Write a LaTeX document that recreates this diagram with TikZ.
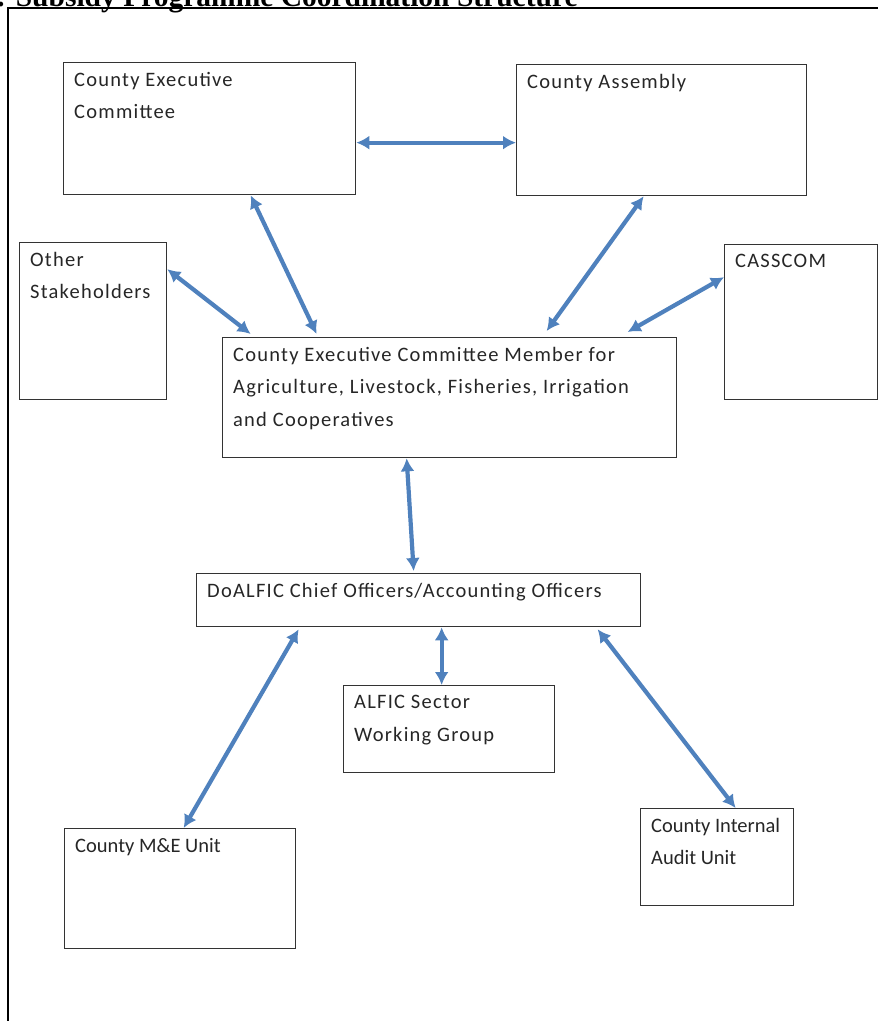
\documentclass[tikz,border=0pt]{standalone}
\usepackage{fontspec}
\setmainfont{Carlito}
\newfontfamily\titlefont{Liberation Serif}
\usetikzlibrary{arrows.meta, positioning}
\definecolor{arrBlue}{HTML}{4F81BD}
\definecolor{boxGrey}{HTML}{333333}
\tikzset{
  orgbox/.style  = {draw=boxGrey, line width=1.3pt, anchor=north west, inner sep=0pt},
  boxtxt/.style  = {anchor=north west, align=left, inner xsep=11pt, inner ysep=10pt,
                    text=black!85, font=\addfontfeature{LetterSpace=6}\fontsize{20.5}{32.5}\selectfont},
  boxtxtn/.style = {boxtxt, font=\fontsize{20.5}{32.5}\selectfont},
  link/.style    = {{Latex[length=13pt,width=14pt]}-{Latex[length=13pt,width=14pt]},
                    line width=4.2pt, arrBlue},
  ttl/.style     = {font=\titlefont\bfseries\fontsize{29.5}{32}\selectfont, anchor=base west, inner sep=0pt},
}

\begin{document}
\begin{tikzpicture}[x=1pt, y=-1pt]
  \useasboundingbox (0,0) rectangle (878,1021);
  % title and outer frame
  \node[ttl] (title) at (-4,6) {: Subsidy Programme Coordination Structure};
  \draw[line width=1.5pt] (8,1040) -- (8,8) -- (890,8);
  % top row
  \node[orgbox, minimum width=292pt, minimum height=132pt,
        label={[boxtxt]north west:County Executive\\Committee}] (cec) at (63,62) {};
  \node[orgbox, minimum width=290pt, minimum height=131pt,
        label={[boxtxt]north west:County Assembly}] (ca) at (516,64) {};
  % side boxes and member
  \node[orgbox, minimum width=147pt, minimum height=157pt,
        label={[boxtxt]north west:Other\\Stakeholders}] (oth) at (19,242) {};
  \node[orgbox, minimum width=153pt, minimum height=155pt,
        label={[boxtxt]north west:CASSCOM}] (cas) at (724,244) {};
  \node[orgbox, minimum width=454pt, minimum height=120pt,
        label={[boxtxt]north west:County Executive Committee Member for\\Agriculture, Livestock, Fisheries, Irrigation\\and Cooperatives}] (cecm) at (222,337) {};
  % officers
  \node[orgbox, minimum width=444pt, minimum height=53pt,
        label={[boxtxt]north west:DoALFIC Chief Officers/Accounting Officers}] (doa) at (196,573) {};
  \node[orgbox, minimum width=211pt, minimum height=87pt,
        label={[boxtxt]north west:ALFIC Sector\\Working Group}] (alf) at (343,685) {};
  % bottom units
  \node[orgbox, minimum width=231pt, minimum height=120pt,
        label={[boxtxtn]north west:County M\&E Unit}] (me) at (64,828) {};
  \node[orgbox, minimum width=153pt, minimum height=97pt,
        label={[boxtxtn]north west:County Internal\\Audit Unit}] (aud) at (640,808) {};
  % links
  \draw[link] ([yshift=-14pt]cec.east) -- ([yshift=-12.5pt]ca.west);
  \draw[link] ([xshift=41pt]cec.south) -- ([xshift=-133pt, yshift=3pt]cecm.north);
  \draw[link] ([xshift=-18pt]ca.south) -- ([xshift=97pt, yshift=6pt]cecm.north);
  \draw[link] ([yshift=52pt]oth.east) -- ([xshift=-199pt, yshift=3pt]cecm.north);
  \draw[link] ([yshift=45pt]cas.west) -- ([xshift=178pt, yshift=5pt]cecm.north);
  \draw[link] ([xshift=-43pt]cecm.south) -- ([xshift=-5pt, yshift=2pt]doa.north);
  \draw[link] ([xshift=23pt]doa.south) -- ([xshift=-7.5pt]alf.north);
  \draw[link] ([xshift=-120pt, yshift=-2pt]doa.south) -- ([xshift=3.5pt]me.north);
  \draw[link] ([xshift=179pt, yshift=-2pt]doa.south) -- ([xshift=18.5pt]aud.north);
\end{tikzpicture}
\end{document}
